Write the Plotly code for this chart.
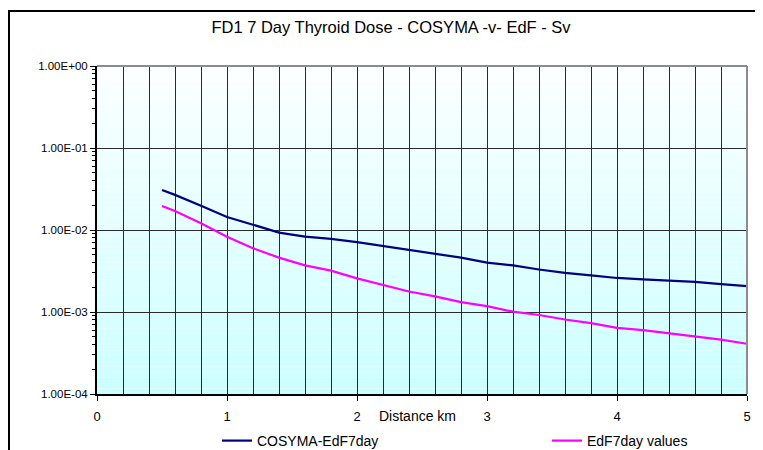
import plotly.graph_objects as go

# ---- data ----
distance_km = [0.5, 0.6, 0.8, 1.0, 1.2, 1.4, 1.6, 1.8, 2.0, 2.2, 2.4, 2.6, 2.8,
               3.0, 3.2, 3.4, 3.6, 3.8, 4.0, 4.2, 4.4, 4.6, 4.8, 5.0]
cosyma_edf_7day = [0.0308, 0.0268, 0.0198, 0.0144, 0.0116, 0.0093, 0.0083, 0.0078,
                   0.0071, 0.0064, 0.0057, 0.0052, 0.0046, 0.0040, 0.0037, 0.0033,
                   0.0030, 0.0028, 0.0026, 0.0025, 0.00243, 0.00233, 0.00219, 0.00207]
edf_7day_values = [0.0196, 0.0171, 0.0121, 0.0083, 0.0060, 0.0046, 0.0037, 0.0032,
                   0.00257, 0.00214, 0.00178, 0.00155, 0.00132, 0.00118, 0.00101,
                   0.00092, 0.00081, 0.00073, 0.00064, 0.00060, 0.00055, 0.00050,
                   0.00046, 0.00041]
y_tick_vals = [1e0, 1e-1, 1e-2, 1e-3, 1e-4]
y_tick_text = ["1.00E+00", "1.00E-01", "1.00E-02", "1.00E-03", "1.00E-04"]
x_tick_vals = [0, 1, 2, 3, 4, 5]
x_tick_text = ["0", "1", "2", "3", "4", "5"]
y_minor_vals = [m * 10.0 ** e for e in range(-4, 0) for m in range(2, 10)]

title_text = "FD1 7 Day Thyroid Dose - COSYMA -v- EdF - Sv"
x_title = "Distance km"
series_names = ["COSYMA-EdF7day", "EdF7day values"]

FONT = "Liberation Sans, Arial, sans-serif"
# the page body has an 8px margin, so the figure is drawn 8px smaller
OFF = 8
W, H = 763 - OFF, 450 - OFF
# plot area in screenshot pixels: x 97..747, y 66..394
L, R, T, B = 97 - OFF, 763 - 747, 66 - OFF, 450 - 394
pw, ph = W - L - R, H - T - B

def px_x(px):  # screenshot px -> paper x
    return (px - OFF - L) / pw

def px_y(py):  # screenshot px -> paper y
    return (H - B - (py - OFF)) / ph

fig = go.Figure()
fig.add_trace(go.Scatter(x=distance_km, y=cosyma_edf_7day, mode="lines",
                         name=series_names[0], legend="legend",
                         line=dict(color="#000080", width=2.2)))
fig.add_trace(go.Scatter(x=distance_km, y=edf_7day_values, mode="lines",
                         name=series_names[1], legend="legend2",
                         line=dict(color="#FF00FF", width=2.2)))

shapes = []
# gradient background bands in the plot area
n = 60
for i in range(n):
    f = (i + 0.5) / n  # 0 at bottom, 1 at top
    r = int(round(204 + (252 - 204) * f))
    shapes.append(dict(type="rect", xref="paper", yref="paper",
                       x0=0, x1=1, y0=i / n, y1=(i + 1) / n,
                       fillcolor=f"rgb({r},255,255)", line=dict(width=0),
                       layer="below"))
# gray top / right plot border
shapes.append(dict(type="line", xref="paper", yref="paper", x0=0, x1=1, y0=1, y1=1,
                   line=dict(color="#8c8c8c", width=2), layer="above"))
shapes.append(dict(type="line", xref="paper", yref="paper", x0=1, x1=1, y0=0, y1=1,
                   line=dict(color="#8c8c8c", width=2), layer="above"))
# outer chart border (right and bottom edges fall outside the picture)
shapes.append(dict(type="rect", xref="paper", yref="paper",
                   x0=px_x(9), x1=px_x(775), y0=px_y(460), y1=px_y(11),
                   line=dict(color="black", width=2), fillcolor="rgba(0,0,0,0)",
                   layer="above"))

legend_common = dict(orientation="h", xanchor="left", yanchor="middle",
                     xref="container", yref="container",
                     font=dict(size=14, family=FONT),
                     bgcolor="rgba(0,0,0,0)", itemwidth=30)

fig.update_layout(
    width=W, height=H,
    margin=dict(l=L, r=R, t=T, b=B, autoexpand=False),
    paper_bgcolor="white",
    plot_bgcolor="white",
    font=dict(family=FONT, color="black"),
    title=dict(text=title_text, x=(391 - OFF) / W, xanchor="center",
               y=1 - (27 - OFF) / H, yanchor="middle",
               font=dict(size=16.5, family=FONT, color="black")),
    shapes=shapes,
    showlegend=True,
    legend=dict(x=(217 - OFF) / W, y=1 - (441 - OFF) / H, **legend_common),
    legend2=dict(x=(547 - OFF) / W, y=1 - (441 - OFF) / H, **legend_common),
    annotations=[dict(text=x_title, xref="paper", yref="paper",
                      x=px_x(417.5), y=px_y(416), xanchor="center",
                      yanchor="middle", showarrow=False,
                      font=dict(size=14, family=FONT))],
)

fig.update_xaxes(range=[0, 5], tickvals=x_tick_vals, ticktext=x_tick_text,
                 ticks="outside", ticklen=5, tickcolor="black",
                 tickfont=dict(size=13, family=FONT), ticklabelstandoff=4,
                 showline=True, linecolor="black", linewidth=2,
                 showgrid=True, gridcolor="#2a2a2a", gridwidth=1.2,
                 minor=dict(dtick=0.2, showgrid=True, gridcolor="#2a2a2a",
                            gridwidth=1.2, ticks=""),
                 zeroline=False, automargin=False)
fig.update_yaxes(type="log", range=[-4, 0], tickvals=y_tick_vals,
                 ticktext=y_tick_text, ticks="outside", ticklen=5,
                 tickcolor="black", tickfont=dict(size=11.5, family=FONT),
                 showline=True, linecolor="black", linewidth=2,
                 showgrid=True, gridcolor="#2a2a2a", gridwidth=1.2,
                 minor=dict(tickvals=y_minor_vals, ticks="outside", ticklen=3,
                            tickcolor="black", showgrid=False),
                 zeroline=False, automargin=False)

fig.write_html("out.html")
